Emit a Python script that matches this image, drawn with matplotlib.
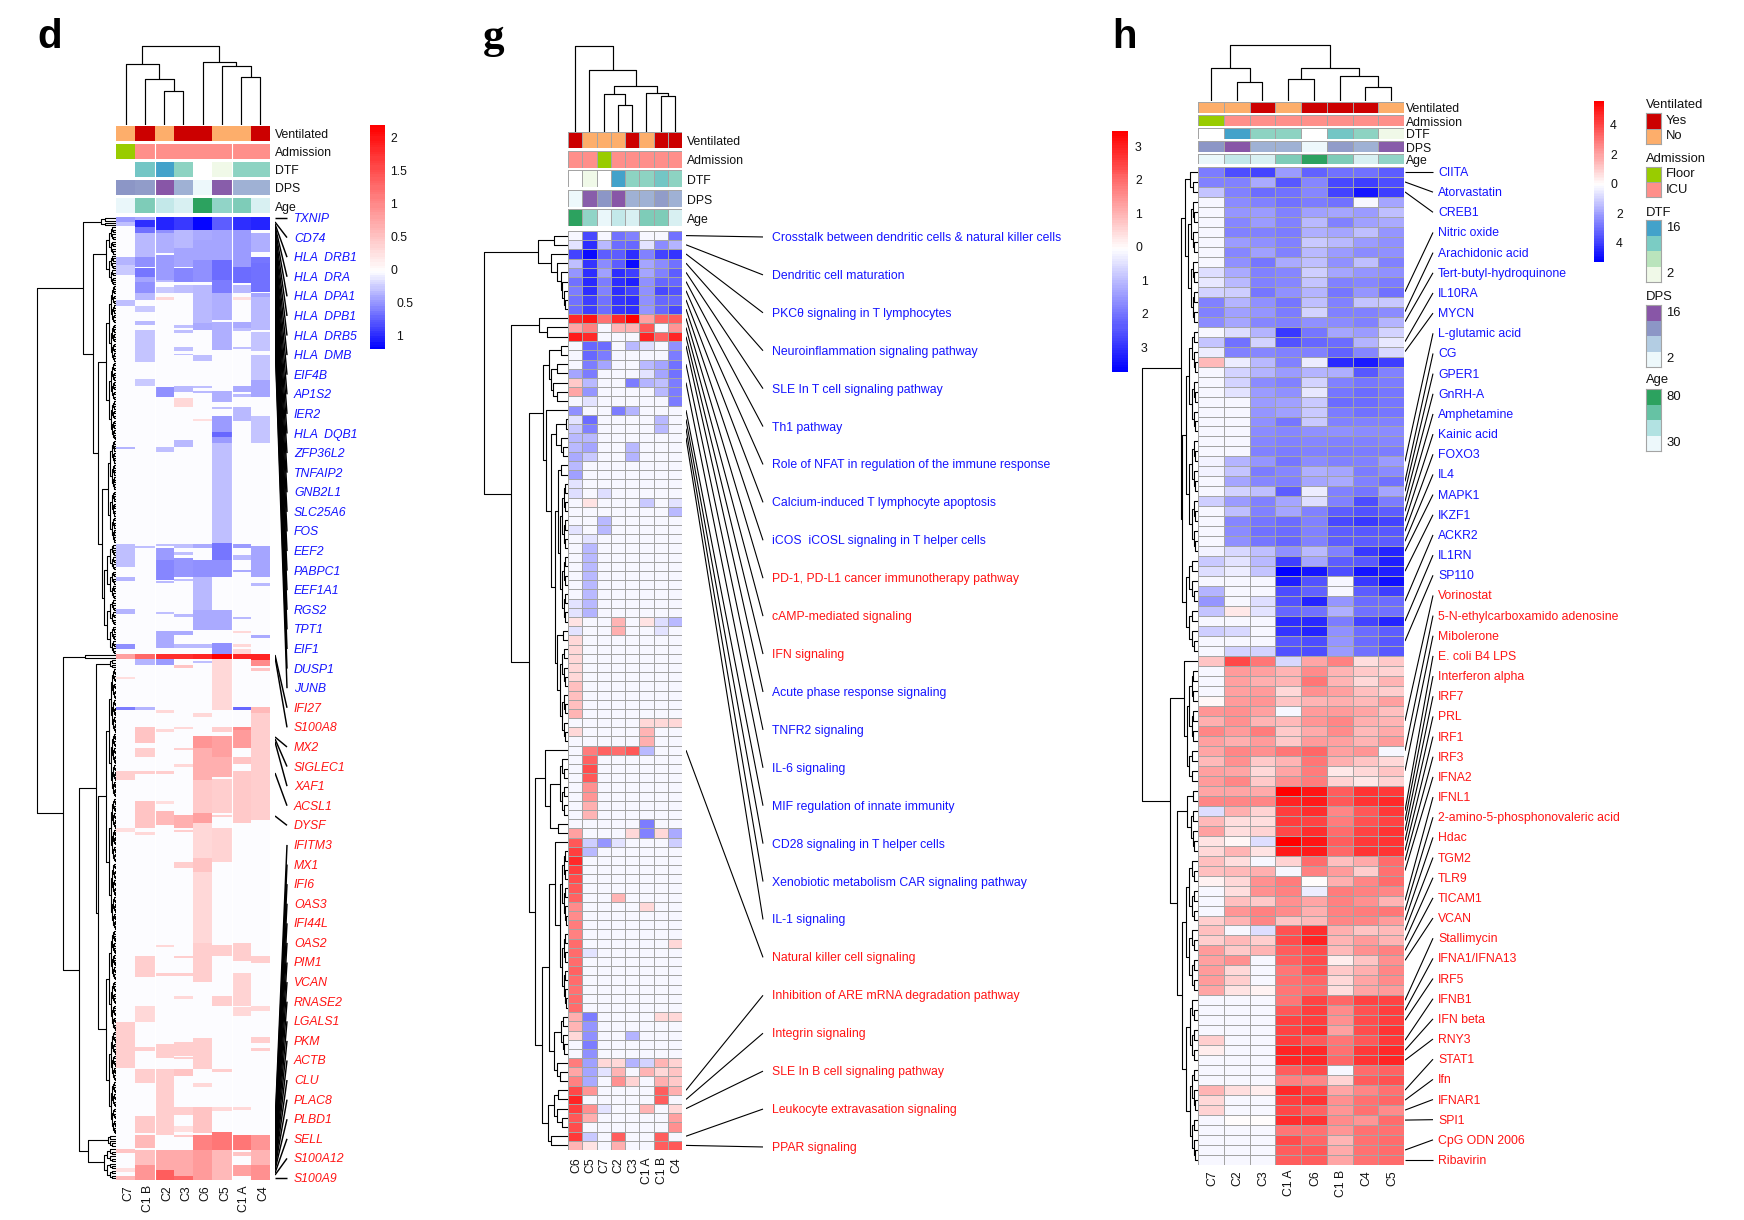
import numpy as np
import matplotlib
matplotlib.use('Agg')
import matplotlib.pyplot as plt
from matplotlib.collections import LineCollection
from matplotlib.colors import LinearSegmentedColormap, ListedColormap, TwoSlopeNorm

plt.rcParams['font.family'] = ['Liberation Sans', 'DejaVu Sans']
plt.rcParams['font.size'] = 8.85
W, H = 1744, 1220
INK = '#111111'
GRID = '#a4a4a4'

# sample annotations, one entry per sample
samples = ['C7', 'C1 B', 'C2', 'C3', 'C6', 'C5', 'C1 A', 'C4']
ventilated = [0, 1, 0, 1, 1, 0, 0, 1]
admission = [0, 1, 1, 1, 1, 1, 1, 1]
dtf = [np.nan, 12, 16, 10, np.nan, 2, 10, 10]
dps = [11.3, 10.8, 16, 9, 2, 15.5, 9, 9]
age = [31, 58, 42, 36, 80, 54, 58, 36]
annotation_names = ['Ventilated', 'Admission', 'DTF', 'DPS', 'Age']

vent_colors = ['#FDAE6B', '#CC0000']
adm_colors = ['#99CC00', '#FF8F8A']
dtf_colors = ['#F0F9E8', '#BAE4BC', '#7BCCC4', '#43A2CA']
dps_colors = ['#EDF8FB', '#B3CDE3', '#8C96C6', '#8856A7']
age_colors = ['#EDF8FB', '#B2E2E2', '#66C2A4', '#2CA25F']

# panel d: (first row, last row, value) per sample, rows numbered
d_order = ['C7', 'C1 B', 'C2', 'C3', 'C6', 'C5', 'C1 A', 'C4']
d_c7 = [(217, 222, -.45), (222, 226, -.3), (257, 265, -.35), (265, 275, -.25), (300, 306, -.3), (447, 449, -.35),
        (544, 567, -.3), (577, 581, -.35), (609, 614, -.35), (644, 649, -.5), (654, 659, .8), (677, 679, .3),
        (707, 710, -.6), (771, 780, .4), (828, 832, .3), (1022, 1068, .4), (1149, 1153, .5), (1168, 1172, .3),
        (1176, 1180, .6)]
d_c1b = [(217, 220, -.4), (220, 227, -.95), (227, 233, -.65), (233, 257, -.33), (257, 267, -.5), (268, 277, -.62),
         (277, 282, -.42), (282, 293, -.5), (293, 300, -.33), (306, 312, -.25), (321, 325, -.33), (330, 362, -.28),
         (379, 386, -.25), (546, 548, -.3), (654, 659, 1.3), (659, 665, -.35), (707, 710, -.35), (727, 743, .5),
         (748, 757, .4), (771, 774, .4), (801, 828, .5), (832, 835, .35), (956, 977, .4), (1006, 1022, .35),
         (1047, 1051, .4), (1069, 1083, .4), (1116, 1133, .45), (1135, 1148, .6), (1150, 1165, .55), (1165, 1180, .9)]
d_c2 = [(217, 230, -1.0), (230, 233, -.5), (233, 253, -.36), (255, 280, -.45), (280, 282, -.33), (287, 293, -.25),
        (297, 300, .35), (387, 397, -.5), (447, 452, -.3), (544, 546, -.3), (548, 560, -.45), (560, 580, -.55),
        (581, 583, -.33), (612, 614, -.3), (631, 648, -.38), (654, 659, 1.8), (659, 665, -.45), (710, 713, .35),
        (729, 732, .35), (771, 774, .4), (801, 804, .3), (811, 825, .6), (945, 947, .35), (973, 976, .4),
        (1044, 1058, .4), (1069, 1135, .42), (1150, 1170, .75), (1170, 1180, 1.4)]
d_c3 = [(217, 230, -.9), (230, 248, -.33), (248, 267, -.42), (268, 282, -.55), (285, 293, -.3), (325, 328, -.3),
        (330, 333, -.3), (347, 351, -.3), (354, 355, -.3), (386, 392, -.33), (398, 407, .35), (440, 447, -.33),
        (544, 548, -.3), (552, 555, -.3), (558, 577, -.48), (579, 581, -.3), (614, 617, -.33), (631, 635, -.38),
        (644, 648, -.33), (654, 659, 1.8), (665, 668, .5), (727, 729, .35), (748, 750, .4), (764, 767, .35),
        (815, 828, .7), (830, 832, .4), (862, 868, .4), (956, 958, .4), (973, 976, .4), (996, 999, .35),
        (1042, 1056, .4), (1057, 1059, .4), (1069, 1076, .5), (1107, 1115, .4), (1126, 1132, .3), (1135, 1137, .45),
        (1150, 1176, .75), (1176, 1180, 1.3)]
d_c6 = [(217, 230, -1.15), (230, 240, -.38), (240, 260, -.42), (260, 282, -.5), (285, 323, -.33), (323, 330, -.38),
        (355, 361, -.3), (386, 388, -.3), (391, 393, -.33), (419, 421, .3), (544, 548, -.38), (560, 577, -.5),
        (577, 610, -.33), (610, 630, -.38), (644, 648, -.33), (654, 659, 1.9), (661, 663, -.3), (713, 717, .35),
        (736, 748, .9), (748, 780, .7), (780, 813, .45), (813, 823, .8), (823, 858, .35), (858, 872, .5),
        (872, 943, .33), (943, 982, .42), (1038, 1069, .4), (1083, 1087, .35), (1107, 1133, .5), (1135, 1150, 1.1),
        (1150, 1180, .85)]
d_c5 = [(217, 230, -.75), (230, 260, -.42), (260, 280, -.68), (280, 293, -.6), (293, 320, -.37), (322, 350, -.37),
        (391, 402, -.37), (407, 409, -.3), (416, 432, -.45), (432, 437, -.7), (437, 443, -.45), (443, 543, -.3),
        (543, 560, -.62), (560, 577, -.5), (610, 630, -.38), (643, 654, -.5), (654, 659, 2.2), (659, 710, .33),
        (727, 732, .4), (736, 757, .8), (757, 777, .7), (779, 813, .42), (815, 817, .4), (828, 862, .38),
        (945, 956, .4), (996, 1006, .4), (1069, 1072, .4), (1107, 1111, .35), (1132, 1150, 1.15), (1150, 1180, .6)]
d_c1a = [(217, 230, -.95), (230, 240, -.45), (240, 267, -.45), (267, 283, -.68), (285, 293, -.33), (297, 300, .3),
         (322, 328, -.38), (328, 331, -.3), (347, 349, -.3), (386, 392, -.38), (394, 397, -.33), (407, 421, -.33),
         (544, 548, -.45), (555, 560, -.33), (570, 572, -.38), (617, 619, -.33), (631, 633, .35), (644, 647, .35),
         (649, 654, .35), (654, 659, 1.9), (707, 710, -.7), (727, 730, 1.0), (730, 748, .85), (757, 764, .5),
         (771, 823, .47), (943, 961, .4), (973, 1006, .38), (1007, 1016, .35), (1107, 1110, .35), (1135, 1150, 1.15),
         (1152, 1156, .5), (1165, 1176, .8)]
d_c4 = [(217, 230, -1.0), (233, 252, -.37), (257, 263, -.62), (263, 292, -.65), (293, 297, -.42), (297, 322, -.33),
        (322, 330, -.33), (332, 351, -.28), (355, 380, -.28), (380, 397, -.42), (416, 443, -.28), (546, 577, -.42),
        (583, 586, -.33), (635, 638, -.38), (654, 660, 1.9), (660, 666, 1.0), (668, 671, .5), (707, 713, .6),
        (713, 727, .4), (727, 820, .44), (956, 963, .4), (1006, 1011, .35), (1037, 1043, .4), (1048, 1051, .4),
        (1135, 1150, .9), (1150, 1165, .65), (1165, 1180, .95)]
d_bands = [d_c7, d_c1b, d_c2, d_c3, d_c6, d_c5, d_c1a, d_c4]
d_background = -0.02

d_genes = ['TXNIP', 'CD74', 'HLA  DRB1', 'HLA  DRA', 'HLA  DPA1', 'HLA  DPB1', 'HLA  DRB5', 'HLA  DMB', 'EIF4B',
           'AP1S2', 'IER2', 'HLA  DQB1', 'ZFP36L2', 'TNFAIP2', 'GNB2L1', 'SLC25A6', 'FOS', 'EEF2', 'PABPC1',
           'EEF1A1', 'RGS2', 'TPT1', 'EIF1', 'DUSP1', 'JUNB', 'IFI27', 'S100A8', 'MX2', 'SIGLEC1', 'XAF1', 'ACSL1',
           'DYSF', 'IFITM3', 'MX1', 'IFI6', 'OAS3', 'IFI44L', 'OAS2', 'PIM1', 'VCAN', 'RNASE2', 'LGALS1', 'PKM',
           'ACTB', 'CLU', 'PLAC8', 'PLBD1', 'SELL', 'S100A12', 'S100A9']
d_n_blue = 25
d_gene_rows = [218, 222, 224, 226, 228, 231, 234, 238, 243, 248, 254, 260, 266, 272, 279, 286, 293, 300, 306, 312,
               318, 324, 330, 335, 340, 655, 657, 737, 739, 742, 773, 816, 1125, 1130, 1134, 1138, 1142, 1146, 1150,
               1153, 1156, 1159, 1162, 1164, 1166, 1168, 1170, 1173, 1175, 1178]

# panel g
o = -0.1
g_order = ['C6', 'C5', 'C7', 'C2', 'C3', 'C1 A', 'C1 B', 'C4']
g_values = [
    [o, -2.6, o, -2.0, -1.8, o, o, -2.0], [-.4, -3.0, -1.0, -2.1, -2.2, -.4, -1.7, -1.1],
    [-2.7, -3.5, -2.3, -2.3, -3.0, -1.8, -2.7, -2.9], [-.9, -2.9, -1.7, -2.3, -3.5, -1.3, -1.7, -2.0],
    [-1.5, -3.0, -1.4, -3.0, -2.8, -1.3, -1.8, -2.3], [-2.0, -3.1, -1.9, -3.0, -3.2, -1.6, -2.2, -2.2],
    [-1.9, -3.0, -1.8, -3.0, -2.7, -1.6, -2.6, -2.5], [-2.0, -2.8, -2.0, -2.9, -3.0, -1.6, -2.2, -2.2],
    [-2.1, -2.8, -2.1, -2.9, -3.0, -1.5, -2.2, -2.6], [2.9, 3.2, 1.9, 2.9, 3.5, 1.3, 2.1, 2.2],
    [1.2, 1.7, o, 1.0, 1.0, 2.3, o, 1.4], [3.1, 2.9, o, o, o, 3.0, 2.1, 3.0],
    [o, -2.2, -2.1, o, -1.0, -.5, o, -1.6], [o, -2.2, -1.9, o, o, o, o, -1.9],
    [o, -1.9, -1.3, o, o, -1.0, -1.3, -2.0], [-1.3, -1.9, o, o, o, -.4, -1.3, -2.0],
    [.7, -1.0, o, o, -1.9, -1.1, -.9, -1.9], [1.2, -1.5, o, o, o, o, -1.0, -1.9],
    [o, -.4, o, o, o, o, o, -1.9], [-1.6, o, o, -1.9, -1.1, o, o, o],
    [-.4, -2.1, o, o, o, o, -1.0, o], [-.8, -1.8, o, o, o, o, -1.0, o],
    [-1.0, -1.0, o, o, o, o, o, o], [-1.0, -1.3, o, o, -1.0, o, o, o],
    [-1.2, -.8, o, o, -1.1, o, o, o], [-1.0, o, o, o, o, o, o, o],
    [-1.4, o, o, o, o, o, o, o], [-.4, o, o, o, o, o, o, o],
    [-.5, o, -.5, o, o, o, o, o], [o, .4, o, o, o, -.8, o, -.4],
    [o, o, o, o, o, o, o, -1.0], [o, o, -1.0, o, o, o, o, o],
    [-.4, o, -1.0, o, o, o, o, o], [o, -.4, o, o, o, o, o, o],
    [o, -1.0, o, o, o, o, o, o], [o, -1.0, o, o, o, o, o, o],
    [o, -1.0, o, o, o, o, o, o], [o, -1.0, o, o, o, o, o, o],
    [o, -1.0, o, o, o, o, o, o], [o, -1.0, o, o, o, o, o, o],
    [-.4, -1.0, o, o, o, o, o, o], [-.4, -1.1, o, o, o, o, o, o],
    [.4, o, o, 1.0, o, .4, -.5, -1.0], [-.4, o, o, 1.1, o, o, -.4, o],
    [.5, o, o, o, o, o, o, o], [.5, o, o, o, o, o, o, o],
    [.5, o, o, o, o, o, o, o], [.5, o, o, o, o, o, o, o],
    [.5, o, o, o, o, o, o, o], [.9, o, o, o, o, o, o, o],
    [.9, o, o, o, o, o, o, o], [.9, o, o, o, o, o, o, o],
    [1.0, o, o, o, o, o, o, o], [o, o, o, o, o, .5, .5, .5],
    [.5, o, o, o, o, 1.0, o, o], [o, o, o, o, o, 1.1, o, o],
    [o, 1.8, 2.1, 2.0, 2.3, -1.0, o, o], [o, 2.1, o, o, o, o, o, o],
    [o, 2.4, o, o, o, o, o, o], [o, 2.3, o, o, o, o, o, o],
    [o, 1.5, o, o, o, o, o, o], [o, 1.4, o, o, o, o, o, o],
    [o, 1.1, o, o, o, o, o, o], [o, 1.0, o, o, o, o, o, o],
    [o, o, o, o, o, -1.9, o, o], [1.3, o, o, o, .5, -1.8, .5, -1.2],
    [2.3, -.7, -1.5, -.4, o, o, o, -.7], [2.6, -1.0, o, o, o, o, o, o],
    [2.9, o, o, o, o, o, o, o], [2.6, o, o, o, o, o, o, o],
    [2.4, o, o, o, o, o, o, o], [2.3, o, o, o, o, o, o, o],
    [2.1, o, o, 1.0, o, o, o, o], [1.6, o, o, o, o, .5, o, o],
    [1.6, o, o, o, o, o, o, o], [1.8, o, o, o, o, o, o, o],
    [1.7, o, o, o, o, o, o, o], [2.0, o, o, o, o, o, o, .5],
    [2.0, -.4, o, o, o, o, o, o], [2.0, o, o, o, o, o, o, o],
    [2.1, o, o, o, o, o, o, o], [2.0, o, o, o, o, o, o, o],
    [1.9, o, o, o, o, o, o, o], [2.0, o, o, o, o, o, o, o],
    [2.0, o, o, o, o, o, o, o], [1.1, -1.9, o, o, o, o, .5, .5],
    [1.0, -1.5, o, o, o, o, o, o], [.5, -1.6, o, o, -1.1, o, o, o],
    [o, -1.9, o, o, o, o, o, o], [o, -1.6, o, o, o, o, o, o],
    [1.8, -1.4, .5, .5, -1.1, -.6, 1.0, .6], [1.2, -1.3, -.4, 1.0, o, 1.0, .5, .8],
    [1.7, -1.2, o, 1.5, .6, o, 1.1, .7], [2.5, 1.4, o, o, o, o, 2.2, 1.1],
    [3.0, o, o, o, o, o, 2.2, o], [2.6, 1.5, -.4, o, o, 1.0, o, .5],
    [2.3, 1.1, o, o, o, o, o, 1.3], [2.4, o, o, o, o, o, o, 1.5],
    [2.7, -.8, o, 2.2, o, o, 2.2, o], [1.0, .4, o, 1.1, o, o, 2.2, 2.3]]
g_pathways = ['Crosstalk between dendritic cells & natural killer cells', 'Dendritic cell maturation',
              'PKC\u03b8 signaling in T lymphocytes', 'Neuroinflammation signaling pathway',
              'SLE In T cell signaling pathway', 'Th1 pathway', 'Role of NFAT in regulation of the immune response',
              'Calcium-induced T lymphocyte apoptosis', 'iCOS  iCOSL signaling in T helper cells',
              'PD-1, PD-L1 cancer immunotherapy pathway', 'cAMP-mediated signaling', 'IFN signaling',
              'Acute phase response signaling', 'TNFR2 signaling', 'IL-6 signaling', 'MIF regulation of innate immunity',
              'CD28 signaling in T helper cells', 'Xenobiotic metabolism CAR signaling pathway', 'IL-1 signaling',
              'Natural killer cell signaling', 'Inhibition of ARE mRNA degradation pathway', 'Integrin signaling',
              'SLE In B cell signaling pathway', 'Leukocyte extravasation signaling', 'PPAR signaling']
g_red = [9, 10, 11, 19, 20, 21, 22, 23, 24]
g_rows = [0, 1, 2, 3, 4, 5, 6, 7, 8, 9, 10, 11, 12, 14, 16, 19, 20, 21, 22, 56, 93, 94, 95, 98, 99]

# panel h
o = -0.2
h_order = ['C7', 'C2', 'C3', 'C1 A', 'C6', 'C1 B', 'C4', 'C5']
h_values = [
    [-2.7, -3.6, -3.8, -2.0, -3.2, -2.9, -2.9, -3.3], [-2.5, -2.6, -1.7, -3.4, -2.4, -3.7, -3.9, -3.6],
    [-1.2, -2.5, -3.0, -2.9, -2.4, -3.8, -4.7, -3.9], [o, -2.3, -2.5, -2.9, -2.7, -2.9, o, -1.8],
    [o, -2.1, -2.0, -2.6, -1.9, -1.8, -2.0, -1.3], [o, -2.4, -2.0, -2.6, -1.4, -2.6, -1.9, -1.7],
    [o, -2.5, -2.5, -2.7, -1.6, -1.8, -1.3, -2.1], [o, -2.0, -2.2, -2.5, -1.1, -1.4, -2.0, -2.2],
    [o, -2.4, -1.9, -2.5, -1.4, -2.0, -2.3, -2.2], [o, -2.2, -2.8, -1.7, -1.3, -2.2, -1.3, -2.5],
    [-.7, -1.7, -2.5, -2.4, -1.0, -1.8, -2.1, -2.2], [-.5, -1.4, -2.5, -2.4, -1.2, -2.5, -2.4, -2.7],
    [-.9, -1.0, -2.8, -2.2, -1.5, -2.8, -2.1, -2.9], [-2.6, -1.5, -2.2, -2.8, -1.3, -2.5, -1.2, -1.1],
    [-2.5, -1.9, -2.1, -2.7, -.9, -2.5, -2.5, -2.3], [-2.3, -1.8, -2.4, -2.5, -2.2, -2.3, -2.5, -1.5],
    [o, -.7, -1.5, -4.0, -2.8, -1.8, -2.0, -.9], [-1.2, -2.9, -.9, -3.5, -3.1, -3.0, -1.5, -.5],
    [-.4, -2.6, -2.4, -2.5, -2.6, -3.2, -2.4, -.8], [1.5, -.4, -1.4, -2.6, -.4, -4.3, -4.6, -3.9],
    [o, -.9, -1.5, -2.0, -1.5, -1.6, -3.4, -2.6], [o, -.9, -2.3, -2.5, -.9, -2.6, -2.8, -2.7],
    [o, -.6, -2.0, -2.2, -.5, -2.8, -3.0, -2.8], [o, o, -2.0, -1.9, -1.1, -3.0, -3.0, -2.8],
    [o, o, -2.1, -1.9, -1.1, -2.7, -2.9, -2.8], [o, o, -2.2, -2.8, -1.1, -2.6, -2.6, -2.5],
    [o, o, -2.3, -2.4, -2.2, -2.2, -2.3, -2.3], [o, o, -2.4, -2.5, -2.4, -2.5, -2.5, -2.4],
    [o, o, -2.6, -2.7, -2.6, -2.7, -2.7, -2.7], [-.3, -1.5, -2.1, -2.8, -2.3, -2.5, -2.6, -2.0],
    [-.3, -1.2, -2.7, -2.4, -1.6, -1.8, -2.7, -2.3], [o, -1.8, -2.4, -2.6, -1.8, -1.7, -2.6, -2.9],
    [o, -.9, -1.3, -3.3, -.4, -2.6, -2.8, -1.8], [-1.0, -2.0, -2.6, -1.8, -.7, -2.5, -3.6, -2.7],
    [o, -1.3, -2.6, -1.8, -2.5, -3.3, -3.5, -3.3], [o, -2.4, -2.8, -3.0, -2.6, -3.7, -4.0, -3.8],
    [o, -2.3, -2.9, -3.0, -2.6, -3.3, -3.4, -3.4], [o, -2.2, -2.8, -3.1, -2.6, -3.3, -3.3, -3.3],
    [-.3, -.8, -1.3, -2.2, -1.4, -2.6, -4.0, -4.4], [-1.1, -.6, -1.4, -3.9, -1.8, -3.3, -3.4, -4.5],
    [-.7, -.4, -1.2, -5.2, -4.7, -3.6, -4.7, -4.5], [o, o, o, -4.5, -3.5, o, -4.0, -4.8],
    [-1.5, o, o, -3.6, -3.2, o, -3.3, -3.9], [-2.1, o, -.7, -3.5, -4.4, -2.1, -3.0, -3.0],
    [-1.2, .5, -.6, -3.1, -2.9, -1.6, -2.9, -2.9], [o, o, o, -4.2, -4.3, -2.7, -3.8, -4.4],
    [-1.0, -.8, o, -4.1, -4.4, -2.2, -3.0, -3.3], [o, o, o, -3.4, -3.6, -2.1, -3.0, -3.4],
    [o, -.9, -.9, -3.5, -3.6, -2.0, -2.9, -3.4], [1.3, 4.0, 3.0, -.8, 2.0, 2.8, .7, 1.2],
    [o, 2.2, 2.1, 1.7, 2.6, 1.7, 1.2, 1.0], [o, 2.1, 1.8, 1.6, 3.0, 1.7, .9, 1.7],
    [o, 2.1, 2.2, .8, 2.4, 2.1, 1.4, 1.1], [.2, 2.2, 2.3, 1.3, 1.7, 1.8, 1.5, 2.1],
    [2.3, 2.5, 2.1, o, 2.2, 2.2, 2.0, 1.4], [1.8, 2.4, 1.7, 1.5, 2.3, 2.7, 1.8, 1.6],
    [2.7, 2.2, 2.9, 1.2, 1.9, 2.6, 1.5, 1.9], [2.1, 1.8, 2.2, 1.2, 2.2, 2.1, 1.7, 2.2],
    [2.0, 2.7, 2.4, 3.0, 3.4, 2.1, 2.3, o], [1.5, 2.4, 1.2, 1.7, 3.0, 1.8, 1.3, .9],
    [2.1, 2.0, .9, 2.0, 2.9, .5, .8, 1.3], [2.2, 2.7, 1.2, 2.5, 2.9, 1.0, .5, 1.0],
    [2.0, 2.0, 1.9, 5.7, 5.2, 3.6, 4.5, 4.4], [2.7, 2.7, 2.7, 4.9, 5.1, 3.7, 4.5, 4.7],
    [-.7, 1.8, 1.0, 4.3, 4.6, 2.7, 3.7, 4.4], [1.5, .7, .7, 4.3, 4.2, 2.9, 3.8, 4.2],
    [2.1, .7, 1.0, 4.1, 4.6, 3.2, 4.2, 4.5], [.6, .2, -.7, 5.7, 5.2, 3.6, 4.4, 4.5],
    [.9, 1.6, .6, 5.1, 5.1, 3.4, 4.5, 4.5], [1.4, .7, o, 1.0, 3.3, 1.4, 1.9, 3.3],
    [1.4, 1.5, 1.8, o, 2.8, 2.2, 1.1, 3.1], [.3, .9, 2.4, 2.9, .1, 1.8, 2.7, 3.2],
    [o, .7, 2.4, 2.8, -.4, 2.9, 2.8, 2.7], [o, 1.4, 1.2, 2.5, 2.0, 2.8, 2.4, 1.7],
    [o, 2.3, 2.8, 2.6, 1.8, 2.8, 2.9, 3.0], [1.1, 1.6, 2.7, 1.3, 1.5, 2.7, 2.7, 2.2],
    [1.4, o, -.7, 3.8, 4.6, 1.8, 1.3, 1.5], [1.1, 1.5, 1.1, 3.9, 4.8, 1.6, 2.2, 1.7],
    [2.2, 1.2, 1.6, 3.6, 3.9, 1.5, 2.4, 2.8], [2.1, 2.4, o, 3.5, 3.9, .4, 1.3, 2.5],
    [2.2, .8, o, 3.0, 3.8, 1.2, 1.8, 2.7], [2.2, 1.1, o, 3.1, 3.4, .9, 2.0, 2.6],
    [2.0, .6, .3, 3.0, 3.3, .7, 2.0, 2.2], [o, o, o, 3.0, 4.2, 3.4, 4.2, 4.2],
    [o, o, o, 3.7, 4.3, 2.6, 3.8, 4.3], [o, o, o, 4.2, 4.3, 2.5, 3.9, 4.3],
    [o, o, o, 4.2, 4.5, 2.1, 3.9, 4.5], [1.1, o, o, 4.3, 3.7, 3.0, 3.7, 4.4],
    [.4, o, o, 4.8, 4.7, 3.1, 4.4, 4.7], [o, o, o, 4.9, 4.7, 3.4, 4.5, 4.8],
    [o, o, o, 3.6, 3.9, o, 3.2, 3.5], [o, o, o, 2.8, 2.7, 1.0, 3.6, 3.8],
    [1.6, .7, .4, 4.7, 4.1, 2.0, 2.7, 3.1], [.8, o, o, 4.3, 4.5, 2.5, 3.1, 3.4],
    [1.0, o, o, 4.1, 3.5, 2.3, 3.1, 2.6], [o, .1, .1, 4.6, 4.5, 2.6, 2.3, 3.2],
    [o, o, o, 3.0, 3.1, 2.3, 3.1, 3.1], [o, o, o, 3.9, 3.4, 1.6, 3.1, 3.2],
    [o, o, o, 3.6, 3.7, 1.9, 3.1, 3.2], [o, o, o, 3.6, 3.6, 2.0, 3.1, 3.2]]
h_regulators = ['CIITA', 'Atorvastatin', 'CREB1', 'Nitric oxide', 'Arachidonic acid', 'Tert-butyl-hydroquinone',
                'IL10RA', 'MYCN', 'L-glutamic acid', 'CG', 'GPER1', 'GnRH-A', 'Amphetamine', 'Kainic acid', 'FOXO3',
                'IL4', 'MAPK1', 'IKZF1', 'ACKR2', 'IL1RN', 'SP110', 'Vorinostat', '5-N-ethylcarboxamido adenosine',
                'Mibolerone', 'E. coli B4 LPS', 'Interferon alpha', 'IRF7', 'PRL', 'IRF1', 'IRF3', 'IFNA2', 'IFNL1',
                '2-amino-5-phosphonovaleric acid', 'Hdac', 'TGM2', 'TLR9', 'TICAM1', 'VCAN', 'Stallimycin',
                'IFNA1/IFNA13', 'IRF5', 'IFNB1', 'IFN beta', 'RNY3', 'STAT1', 'Ifn', 'IFNAR1', 'SPI1', 'CpG ODN 2006',
                'Ribavirin']
h_n_blue = 21
h_rows = [0, 1, 2, 12, 14, 15, 17, 18, 29, 31, 32, 33, 34, 35, 36, 37, 38, 40, 43, 45, 47, 55, 58, 60, 64, 65, 66, 67,
          68, 69, 70, 73, 74, 75, 76, 77, 78, 79, 83, 84, 85, 87, 88, 89, 92, 93, 94, 95, 98, 99]


def box(x0, y0, x1, y1):
    return [x0 / W, 1 - y1 / H, (x1 - x0) / W, (y1 - y0) / H]


def cluster(a, b, top, step=1):
    # tight fringe of small merges, only for the parts of the trees too fine to read
    n = int(round((b - a) / step))
    if n <= 1:
        return (a + b) / 2
    m = a + (n // 2) * step
    return (top, cluster(a, m, top * 0.72, step), cluster(m, b, top * 0.72, step))


def tree_segments(node, segs):
    if not isinstance(node, tuple):
        pos = node + 0.5 if isinstance(node, int) else node
        return pos, 0
    top, left, right = node
    pa, ha = tree_segments(left, segs)
    pb, hb = tree_segments(right, segs)
    segs.append([(pa, ha), (pa, top), (pb, top), (pb, hb)])
    return (pa + pb) / 2, top


def blank(ax):
    ax.set_xticks([])
    ax.set_yticks([])
    for s in ax.spines.values():
        s.set_visible(False)


def add_top_tree(fig, tree, x0, x1, base):
    segs = []
    tree_segments(tree, segs)
    ax = fig.add_axes(box(x0, base - 90, x1, base))
    ax.add_collection(LineCollection(segs, colors='black', linewidths=0.85))
    ax.set_xlim(0, 8)
    ax.set_ylim(0, 90)
    ax.patch.set_alpha(0)
    blank(ax)


def add_left_tree(fig, tree, x0, y0, x1, y1, ylim):
    segs = []
    tree_segments(tree, segs)
    segs = [[(h, p) for p, h in s] for s in segs]
    ax = fig.add_axes(box(x0, y0, x1, y1))
    ax.add_collection(LineCollection(segs, colors='black', linewidths=0.8))
    ax.set_xlim(x1 - x0, 0)
    ax.set_ylim(*ylim)
    ax.patch.set_alpha(0)
    blank(ax)


def annotation_rows(fig, order, x0, x1, rows, label_x, edge):
    idx = [samples.index(s) for s in order]
    series = [(ventilated, ListedColormap(vent_colors), 0, 1),
              (admission, ListedColormap(adm_colors), 0, 1),
              (dtf, LinearSegmentedColormap.from_list('dtf', dtf_colors), 2, 16),
              (dps, LinearSegmentedColormap.from_list('dps', dps_colors), 2, 16),
              (age, LinearSegmentedColormap.from_list('age', age_colors), 30, 80)]
    for i, ((y0, y1), (vals, cmap, lo, hi)) in enumerate(zip(rows, series)):
        ax = fig.add_axes(box(x0, y0, x1, y1))
        cmap.set_bad('white')
        row = np.ma.masked_invalid(np.array(vals, dtype=float)[idx]).reshape(1, -1)
        if edge:
            ax.pcolormesh(row, cmap=cmap, vmin=lo, vmax=hi, edgecolors=GRID, linewidth=0.55)
        else:
            ax.pcolormesh(row, cmap=cmap, vmin=lo, vmax=hi)
            if i > 0:
                for c in (2, 6):
                    ax.axvline(c, color='white', lw=0.8)
        blank(ax)
        fig.text(label_x / W, 1 - ((y0 + y1) / 2 + 2) / H, annotation_names[i], ha='left', va='center', color=INK)


def add_connectors(fig, x0, x1, y0, y1, ylim, rows, label_pos, labels, colors, line_end, text_x, lw=0.8, italic=False):
    ax = fig.add_axes(box(x0, y0, x1, y1))
    segs = [[(0, r), (line_end, p)] for r, p in zip(rows, label_pos)]
    ax.add_collection(LineCollection(segs, colors='black', linewidths=lw))
    ax.set_xlim(0, x1 - x0)
    ax.set_ylim(*ylim)
    ax.patch.set_alpha(0)
    blank(ax)
    for lab, p, c in zip(labels, label_pos, colors):
        ax.annotate(lab, (text_x, p), xytext=(0, -1), textcoords='offset pixels', color=c, ha='left', va='center',
                    annotation_clip=False, style='italic' if italic else 'normal')


def sample_labels(fig, order, x0, x1, y, shift):
    step = (x1 - x0) / len(order)
    for i, s in enumerate(order):
        fig.text((x0 + (i + 0.5) * step + shift) / W, 1 - y / H, s, rotation=90, ha='center', va='top', color=INK)


heat_cmap = LinearSegmentedColormap.from_list('bwr100', ['#0000FF', '#FFFFFF', '#FF0000'], N=100)

fig = plt.figure(figsize=(W / 100, H / 100), dpi=100)

# ---- panel d
d_matrix = np.full((963, 8), d_background)
for col, bands in enumerate(d_bands):
    for first, last, value in bands:
        d_matrix[first - 217:last - 217, col] = value
d_norm = TwoSlopeNorm(vmin=-1.18, vcenter=0, vmax=2.21)
ax = fig.add_axes(box(116, 217, 270, 1180))
ax.pcolormesh(np.arange(9), np.arange(217, 1181), d_matrix, cmap=heat_cmap, norm=d_norm)
for c in (2, 6):
    ax.axvline(c, color='white', lw=0.8)
ax.set_ylim(1180, 217)
blank(ax)

annotation_rows(fig, d_order, 116, 270, [(126, 141), (144, 159), (162, 177), (180, 195), (198, 213)], 275, False)
d_top = (79, (61, 0, (46, 1, (34, 2, 3))), (63, 4, (59, 5, (48, 6, 7))))
add_top_tree(fig, d_top, 116, 270, 125)

d_tree_upper = (33, cluster(217, 226, 15, 2.4),
                (23, cluster(226, 285, 10, 2.4),
                 (18, cluster(285, 440, 10, 2.4), (14, cluster(440, 544, 8, 2.4), cluster(544, 654, 12, 2.4)))))
d_tree_lower = (53, (31, 655.0, 658.0),
                (37, (20, cluster(659, 668, 6, 2.4),
                      (18, cluster(668, 930, 10, 2.4), cluster(930, 1135, 10, 2.4))),
                 (28, cluster(1135, 1148, 8, 2.4), cluster(1148, 1180, 12, 2.4))))
add_left_tree(fig, (79, d_tree_upper, d_tree_lower), 30, 217, 116, 1180, (1180, 217))

d_colors = ['#1414FF' if i < d_n_blue else '#FF1414' for i in range(len(d_genes))]
add_connectors(fig, 275, 294, 217, 1180, (1180, 217), d_gene_rows, np.linspace(218, 1178, 50), d_genes, d_colors,
               12, 19, lw=1.05, italic=True)
sample_labels(fig, d_order, 116, 270, 1185, 3)

# ---- panel g
g_norm = TwoSlopeNorm(vmin=-3.7, vcenter=0, vmax=3.5)
ax = fig.add_axes(box(568, 231, 682, 1150))
ax.pcolormesh(np.array(g_values), cmap=heat_cmap, norm=g_norm, edgecolors=GRID, linewidth=0.55)
ax.set_ylim(100, 0)
blank(ax)
annotation_rows(fig, g_order, 568, 682, [(132, 148), (151, 168), (170, 187), (190, 207), (209, 226)], 687, True)
g_top = (86, 0, (62, 1, (46, (38, 2, (27, 3, 4)), (39, 5, (36, 6, 7)))))
add_top_tree(fig, g_top, 568, 682, 132)

g_a = (30, (14, 0, 1), (17, 2, (11, 3, (7, 4, (6, 5, (4, 6, (3, 7, 8)))))))
g_b = (29, 9, (21, 10, 11))
g_c = (19, (7, 12, 13), (17, (11, 14, 15), (15, 16, (11, 17, 18))))
g_x = (12, (2, 20, 21), (7, 22, (5, 23, 24)))
g_y = (13, (10, (7, 25, 26), cluster(27, 43, 8)), (11, (5, 43, 44), cluster(45, 56, 8)))
g_n = (23, 56, (18, cluster(57, 64, 8), (10, 64, 65)))
g_m = (26, (19, (13, 66, cluster(67, 85, 8)), (14, cluster(85, 90, 7), (11, 90, (8, 91, 92)))),
       (20, (14, (10, 93, 94), (11, 95, (6, 96, 97))), (17, 98, 99)))
g_tree = (84, g_a, (57, g_b, (39, (25, g_c, (22, 19, (17, g_x, g_y))), (33, g_n, g_m))))
add_left_tree(fig, g_tree, 480, 231, 568, 1150, (100, 0))

g_colors = ['#FF1414' if i in g_red else '#1414FF' for i in range(len(g_pathways))]
add_connectors(fig, 686, 772, 231, 1150, (100, 0), [r + 0.5 for r in g_rows], np.linspace(0.65, 99.67, 25),
               g_pathways, g_colors, 77, 86)
sample_labels(fig, g_order, 568, 682, 1157, 1)

# ---- panel h
h_norm = TwoSlopeNorm(vmin=-5.2, vcenter=0, vmax=5.7)
ax = fig.add_axes(box(1198, 167, 1404, 1165))
ax.pcolormesh(np.array(h_values), cmap=heat_cmap, norm=h_norm, edgecolors=GRID, linewidth=0.55)
ax.set_ylim(100, 0)
blank(ax)
annotation_rows(fig, h_order, 1198, 1404, [(102, 113), (115, 126), (128, 139), (141, 152), (154, 164)], 1406, True)
h_top = (56, (33, 0, (19, 1, 2)), (33, (22, 3, 4), (25, 5, (14, 6, 7))))
add_top_tree(fig, h_top, 1198, 1404, 101)

h_upper = (17, (13, (8, 0, (5, 1, 2)), cluster(3, 16, 10)), (16, cluster(16, 39, 12), cluster(39, 49, 12)))
h_l1 = (14, 49, (11, cluster(50, 58, 9), cluster(58, 62, 9)))
h_l2 = (21, (11, cluster(62, 64, 5), cluster(64, 69, 7)),
        (16, cluster(69, 83, 12), (12, cluster(83, 90, 8), cluster(90, 100, 8))))
add_left_tree(fig, (56, h_upper, (28, h_l1, h_l2)), 1135, 167, 1198, 1165, (100, 0))

h_colors = ['#1414FF' if i < h_n_blue else '#FF1414' for i in range(len(h_regulators))]
add_connectors(fig, 1405, 1440, 167, 1165, (100, 0), [r + 0.5 for r in h_rows], np.linspace(0.5, 99.5, 50),
               h_regulators, h_colors, 28, 33)
sample_labels(fig, h_order, 1198, 1404, 1170, 1)


# ---- colour keys, tick text sits right of each bar, negative side nudged as in the scan
def key(norm, x0, y0, x1, y1, pos_ticks, neg_ticks, pos_x, neg_x):
    ax = fig.add_axes(box(x0, y0, x1, y1))
    levels = np.linspace(norm.vmin, norm.vmax, 101)
    centre = (levels[:-1] + levels[1:]) / 2
    ax.pcolormesh([0, 1], levels, centre.reshape(-1, 1), cmap=heat_cmap, norm=norm)
    ax.set_xlim(0, 1)
    ax.set_ylim(norm.vmin, norm.vmax)
    blank(ax)
    for t in pos_ticks:
        ax.text((pos_x - x0) / (x1 - x0), t, '%g' % t, ha='left', va='center', color=INK, clip_on=False)
    for t in neg_ticks:
        ax.text((neg_x - x0) / (x1 - x0), t, '%g' % abs(t), ha='left', va='center', color=INK, clip_on=False)


key(d_norm, 370, 125, 385, 349, [0, 0.5, 1, 1.5, 2], [-0.5, -1], 390, 396)
key(g_norm, 1112, 131, 1128, 372, [0, 1, 2, 3], [-1, -2, -3], 1135, 1141)
key(h_norm, 1594, 101, 1604, 262, [0, 2, 4], [-2, -4], 1610, 1616)


# ---- legend of panel h
def legend_block(title, title_y, x0, x1, y0, y1, colors, labels, edges):
    fig.text(x0 / W, 1 - title_y / H, title, ha='left', va='center', color=INK, fontsize=9.4)
    ax = fig.add_axes(box(x0, y0, x1, y1))
    grid = np.arange(len(colors)).reshape(-1, 1)
    cmap = ListedColormap(colors)
    if edges:
        ax.pcolormesh(grid, cmap=cmap, edgecolors=GRID, linewidth=0.7)
    else:
        ax.pcolormesh(grid, cmap=cmap)
    ax.set_ylim(len(colors), 0)
    ax.set_xticks([])
    ax.set_yticks([])
    for s in ax.spines.values():
        s.set_color(GRID)
    for y, lab in labels:
        fig.text((x1 + 5) / W, 1 - y / H, lab, ha='left', va='center', color=INK, fontsize=9.4)


legend_block('Ventilated', 105, 1646, 1661, 113, 144, ['#CC0000', '#FDAE6B'], [(121, 'Yes'), (136, 'No')], True)
legend_block('Admission', 159, 1646, 1661, 167, 197, ['#99CC00', '#FF8F8A'], [(174, 'Floor'), (190, 'ICU')], True)
legend_block('DTF', 213, 1646, 1661, 220, 282, dtf_colors[::-1], [(228, '16'), (274, '2')], False)
legend_block('DPS', 297, 1646, 1661, 305, 367, dps_colors[::-1], [(313, '16'), (359, '2')], False)
legend_block('Age', 380, 1646, 1661, 389, 451, age_colors[::-1], [(397, '80'), (443, '30')], False)

# ---- panel letters
fig.text(37 / W, 1 - 48 / H, 'd', fontsize=29, fontweight='bold', ha='left', va='baseline', color='black')
fig.text(483 / W, 1 - 48 / H, 'g', fontsize=31, fontweight='bold', family='Liberation Serif', ha='left',
         va='baseline', color='black')
fig.text(1112 / W, 1 - 48 / H, 'h', fontsize=29, fontweight='bold', ha='left', va='baseline', color='black')

fig.savefig('out.png', dpi=100)
